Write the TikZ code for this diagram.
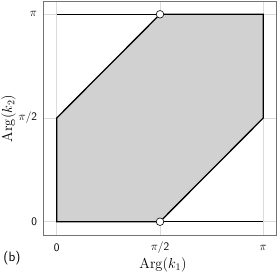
\documentclass[tikz,border=0pt]{standalone}
\usepackage{amsmath}
\usepackage{xcolor}
\usepackage{tikz}
\usetikzlibrary{positioning}

\begin{document}
\begin{tikzpicture}[
    x=1pt,y=1pt,
    gridline/.style={draw=black!14,line width=0.5pt},
    frame/.style={draw=black!55,line width=0.7pt},
    edge/.style={draw=black,line width=1.3pt,line join=miter},
    dot/.style={circle,draw=black,fill=white,line width=0.6pt,
        minimum size=7.6pt,inner sep=0pt},
    ticklabel/.style={font=\sffamily\fontsize{11.5}{13}\selectfont,inner sep=1pt},
    axislabel/.style={font=\fontsize{13.6}{16}\selectfont,inner sep=1pt}
]
\useasboundingbox (0,0) rectangle (278,273);
\begin{scope}[shift={(56.7,51.3)},x=65.76pt,y=66.02pt]
% grid and frame
\foreach \v in {0,{pi/2},pi} {
    \draw[gridline] ({\v},-0.2) -- ({\v},{pi+0.2});
    \draw[gridline] (-0.2,{\v}) -- ({pi+0.2},{\v});
}
\draw[frame] (-0.2,-0.2) rectangle ({pi+0.2},{pi+0.2});
% region
\coordinate (a) at (0,0);
\coordinate (b) at ({pi/2},0);
\coordinate (c) at ({pi},{pi/2});
\coordinate (d) at ({pi},{pi});
\coordinate (e) at ({pi/2},{pi});
\coordinate (f) at (0,{pi/2});
\coordinate (g) at ({pi},0);
\coordinate (h) at (0,{pi});
\filldraw[edge,fill=black!18] (a) -- (b) -- (c) -- (d) -- (e) -- (f) -- cycle;
\draw[edge] (b) -- (g);
\draw[edge] (h) -- (e);
\node[dot] (lower) at (b) {};
\node[dot] (upper) at (e) {};
% tick labels
\node[ticklabel,anchor=east] (y0) at (-0.28,0) {0};
\node[ticklabel,anchor=east] (y1) at (-0.28,{pi/2}) {$\pi$/2};
\node[ticklabel,anchor=east] (y2) at (-0.28,{pi}) {$\pi$};
\node[ticklabel] (x0) at (0,-0.40) {0};
\node[ticklabel] (x1) at ({pi/2},-0.40) {$\pi$/2};
\node[ticklabel] (x2) at ({pi},-0.40) {$\pi$};
\end{scope}
\node[axislabel] (xlab) at (163,8) {$\mathrm{Arg}(k_1)$};
\node[axislabel,rotate=90] (ylab) at (8.5,154.5) {$\mathrm{Arg}(k_2)$};
\node[font=\sffamily\fontsize{13.5}{16}\selectfont,inner sep=1pt] (tag) at (12,15) {(b)};
\end{tikzpicture}
\end{document}
